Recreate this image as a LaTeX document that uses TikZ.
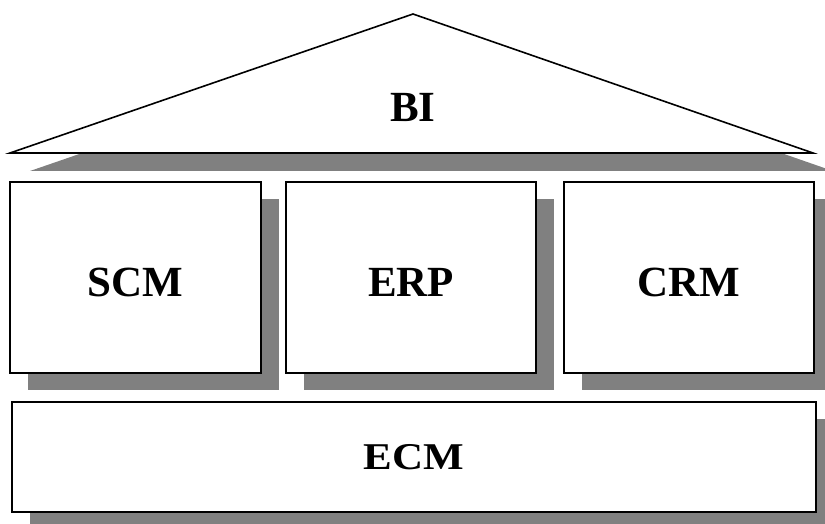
\documentclass[tikz,border=0pt]{standalone}
\usepackage{fontspec}
\setmainfont{Liberation Serif}
\usetikzlibrary{shadows}
\definecolor{shadowgray}{HTML}{808080}
\tikzset{
  label/.style={font=\bfseries\fontsize{43}{43}\selectfont, inner sep=0pt},
  pillar/.style={draw=black, line width=1.6pt, fill=white, inner sep=0pt,
    general shadow={shadow xshift=18pt, shadow yshift=-17pt, fill=shadowgray}},
}
\begin{document}
\begin{tikzpicture}[x=1pt, y=-1pt]
  \useasboundingbox (0,0) rectangle (825,524);
  \clip (0,0) rectangle (825,524);
  % roof with its shadow
  \fill[shadowgray] (433,32) -- (30,171) -- (833,171) -- cycle;
  \draw[line width=1.6pt, fill=white, line join=miter] (413,14) -- (10,153) -- (813,153) -- cycle;
  \node[label] (bi) at (413,107) {BI};
  % the three pillars
  \node[pillar, minimum width=251pt, minimum height=191pt] (scm) at (135.5,277.5) {};
  \node[pillar, minimum width=250pt, minimum height=191pt] (erp) at (411,277.5) {};
  \node[pillar, minimum width=250pt, minimum height=191pt] (crm) at (689,277.5) {};
  \node[label] (scmtext) at ([yshift=-5pt]scm.center) {SCM};
  \node[label] (erptext) at ([yshift=-5pt]erp.center) {ERP};
  \node[label] (crmtext) at ([yshift=-5pt]crm.center) {CRM};
  % foundation
  \node[pillar, minimum width=804pt, minimum height=110pt] (ecm) at (414,457) {};
  \node[label, yscale=0.88] (ecmtext) at (ecm.center) {ECM};
\end{tikzpicture}
\end{document}
